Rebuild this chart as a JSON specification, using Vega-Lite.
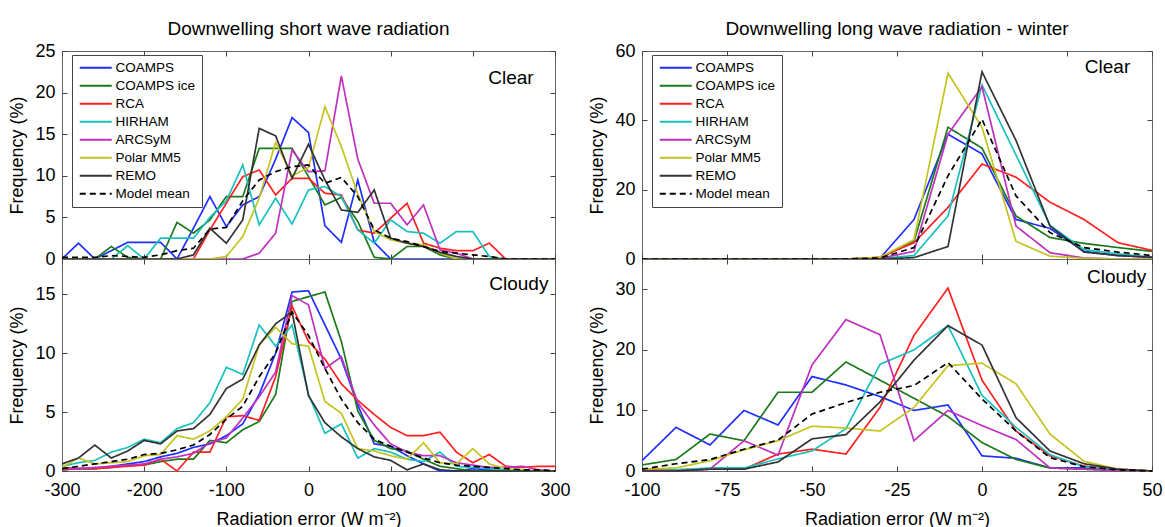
{
  "$schema": "https://vega.github.io/schema/vega-lite/v6.json",
  "padding": {"left": 8, "top": 19, "right": 0, "bottom": 0},
  "background": "white",
  "config": {
    "font": "Liberation Sans",
    "view": {"stroke": "#666666", "strokeWidth": 1},
    "axis": {"labelFont": "Liberation Sans", "labelFontSize": 18, "titleFont": "Liberation Sans", "titleFontSize": 18, "titleFontWeight": "normal", "grid": false, "domain": false, "tickColor": "#444444", "tickSize": -5, "labelColor": "#000000", "titleColor": "#000000", "labelFlush": false},
    "title": {"font": "Liberation Sans", "fontSize": 19, "fontWeight": "normal", "color": "#000000", "offset": 3},
    "legend": {"title": null, "orient": "none", "legendX": 10, "legendY": 4, "fillColor": "white", "strokeColor": "#444444", "padding": 6, "labelFont": "Liberation Sans", "labelFontSize": 13.5, "symbolType": "M-1,0H5.4", "symbolSize": 100, "symbolStrokeWidth": 2, "rowPadding": 3, "labelOffset": 24, "zindex": 1}
  },
  "datasets": {
    "sw_clear": [
      {"x": -300, "COAMPS": 0, "COAMPS ice": 0, "RCA": 0, "HIRHAM": 0, "ARCSyM": 0, "Polar MM5": 0, "REMO": 0, "Model mean": 0.2},
      {"x": -280, "COAMPS": 1.9, "COAMPS ice": 0, "RCA": 0, "HIRHAM": 0, "ARCSyM": 0, "Polar MM5": 0, "REMO": 0, "Model mean": 0.2},
      {"x": -260, "COAMPS": 0, "COAMPS ice": 0, "RCA": 0, "HIRHAM": 0, "ARCSyM": 0, "Polar MM5": 0, "REMO": 0, "Model mean": 0.2},
      {"x": -240, "COAMPS": 1, "COAMPS ice": 1.5, "RCA": 0, "HIRHAM": 0, "ARCSyM": 0, "Polar MM5": 0, "REMO": 0, "Model mean": 0.4},
      {"x": -220, "COAMPS": 2, "COAMPS ice": 0.2, "RCA": 0, "HIRHAM": 1.6, "ARCSyM": 0, "Polar MM5": 0, "REMO": 0, "Model mean": 0.3},
      {"x": -200, "COAMPS": 2, "COAMPS ice": 0, "RCA": 0, "HIRHAM": 0, "ARCSyM": 0, "Polar MM5": 0, "REMO": 0, "Model mean": 0.2},
      {"x": -180, "COAMPS": 2, "COAMPS ice": 0, "RCA": 0, "HIRHAM": 2.5, "ARCSyM": 0, "Polar MM5": 0, "REMO": 0, "Model mean": 0.5},
      {"x": -160, "COAMPS": 0, "COAMPS ice": 4.4, "RCA": 0, "HIRHAM": 2.5, "ARCSyM": 0, "Polar MM5": 0, "REMO": 0, "Model mean": 1},
      {"x": -140, "COAMPS": 3.7, "COAMPS ice": 3.1, "RCA": 0, "HIRHAM": 2.5, "ARCSyM": 0, "Polar MM5": 0, "REMO": 0.5, "Model mean": 1.3},
      {"x": -120, "COAMPS": 7.5, "COAMPS ice": 4.7, "RCA": 3.5, "HIRHAM": 5, "ARCSyM": 0, "Polar MM5": 0, "REMO": 3.7, "Model mean": 3.6},
      {"x": -100, "COAMPS": 3.9, "COAMPS ice": 7.5, "RCA": 6.7, "HIRHAM": 7, "ARCSyM": 0, "Polar MM5": 0.3, "REMO": 1.9, "Model mean": 3.8},
      {"x": -80, "COAMPS": 6.5, "COAMPS ice": 7.5, "RCA": 9.9, "HIRHAM": 11.3, "ARCSyM": 0, "Polar MM5": 2.7, "REMO": 4.7, "Model mean": 7},
      {"x": -60, "COAMPS": 7.5, "COAMPS ice": 13.3, "RCA": 10.7, "HIRHAM": 4.1, "ARCSyM": 0.7, "Polar MM5": 7.3, "REMO": 15.7, "Model mean": 9.5},
      {"x": -40, "COAMPS": 12, "COAMPS ice": 13.3, "RCA": 7.7, "HIRHAM": 7.3, "ARCSyM": 3.1, "Polar MM5": 14, "REMO": 14.8, "Model mean": 10.5},
      {"x": -20, "COAMPS": 17, "COAMPS ice": 13.3, "RCA": 9.7, "HIRHAM": 4.2, "ARCSyM": 13.1, "Polar MM5": 10, "REMO": 9.7, "Model mean": 11.1},
      {"x": 0, "COAMPS": 15.2, "COAMPS ice": 9.9, "RCA": 9.7, "HIRHAM": 8.3, "ARCSyM": 10.5, "Polar MM5": 11, "REMO": 13.8, "Model mean": 11.3},
      {"x": 20, "COAMPS": 4, "COAMPS ice": 6.5, "RCA": 7.9, "HIRHAM": 8.7, "ARCSyM": 10.6, "Polar MM5": 18.3, "REMO": 9.5, "Model mean": 9.1},
      {"x": 40, "COAMPS": 2, "COAMPS ice": 7.4, "RCA": 7.7, "HIRHAM": 7.5, "ARCSyM": 22, "Polar MM5": 13.5, "REMO": 5.9, "Model mean": 9.8},
      {"x": 60, "COAMPS": 9.5, "COAMPS ice": 4.5, "RCA": 3.5, "HIRHAM": 3.5, "ARCSyM": 12, "Polar MM5": 7.8, "REMO": 5.6, "Model mean": 7.5},
      {"x": 80, "COAMPS": 2, "COAMPS ice": 0.2, "RCA": 3.1, "HIRHAM": 1.9, "ARCSyM": 6.7, "Polar MM5": 3.3, "REMO": 8.3, "Model mean": 3.5},
      {"x": 100, "COAMPS": 0, "COAMPS ice": 0, "RCA": 4.9, "HIRHAM": 4.7, "ARCSyM": 6.7, "Polar MM5": 2.3, "REMO": 2.5, "Model mean": 2.5},
      {"x": 120, "COAMPS": 0, "COAMPS ice": 1.5, "RCA": 6.7, "HIRHAM": 3.3, "ARCSyM": 4.1, "Polar MM5": 1.9, "REMO": 1.9, "Model mean": 2.1},
      {"x": 140, "COAMPS": 0, "COAMPS ice": 1.5, "RCA": 1.9, "HIRHAM": 3.1, "ARCSyM": 6.5, "Polar MM5": 1.7, "REMO": 1.5, "Model mean": 1.5},
      {"x": 160, "COAMPS": 0, "COAMPS ice": 0.5, "RCA": 1.3, "HIRHAM": 1.9, "ARCSyM": 1.1, "Polar MM5": 0.7, "REMO": 0.8, "Model mean": 0.9},
      {"x": 180, "COAMPS": 0, "COAMPS ice": 0, "RCA": 1, "HIRHAM": 3.3, "ARCSyM": 0.7, "Polar MM5": 0, "REMO": 0.3, "Model mean": 0.7},
      {"x": 200, "COAMPS": 0, "COAMPS ice": 0, "RCA": 1, "HIRHAM": 3.3, "ARCSyM": 0, "Polar MM5": 0, "REMO": 0, "Model mean": 0.5},
      {"x": 220, "COAMPS": 0, "COAMPS ice": 0, "RCA": 1.9, "HIRHAM": 0.3, "ARCSyM": 0, "Polar MM5": 0, "REMO": 0, "Model mean": 0.3},
      {"x": 240, "COAMPS": 0, "COAMPS ice": 0, "RCA": 0, "HIRHAM": 0, "ARCSyM": 0, "Polar MM5": 0, "REMO": 0, "Model mean": 0},
      {"x": 260, "COAMPS": 0, "COAMPS ice": 0, "RCA": 0, "HIRHAM": 0, "ARCSyM": 0, "Polar MM5": 0, "REMO": 0, "Model mean": 0},
      {"x": 280, "COAMPS": 0, "COAMPS ice": 0, "RCA": 0, "HIRHAM": 0, "ARCSyM": 0, "Polar MM5": 0, "REMO": 0, "Model mean": 0},
      {"x": 300, "COAMPS": 0, "COAMPS ice": 0, "RCA": 0, "HIRHAM": 0, "ARCSyM": 0, "Polar MM5": 0, "REMO": 0, "Model mean": 0}
    ],
    "sw_cloudy": [
      {"x": -300, "COAMPS": 0.1, "COAMPS ice": 0.3, "RCA": 0.1, "HIRHAM": 0.4, "ARCSyM": 0.2, "Polar MM5": 0.3, "REMO": 0.6, "Model mean": 0.2},
      {"x": -280, "COAMPS": 0.2, "COAMPS ice": 0.2, "RCA": 0.2, "HIRHAM": 0.7, "ARCSyM": 0.2, "Polar MM5": 1.1, "REMO": 1.1, "Model mean": 0.4},
      {"x": -260, "COAMPS": 0.2, "COAMPS ice": 0.2, "RCA": 0.2, "HIRHAM": 0.9, "ARCSyM": 0.3, "Polar MM5": 0.6, "REMO": 2.2, "Model mean": 0.6},
      {"x": -240, "COAMPS": 0.4, "COAMPS ice": 0.3, "RCA": 0.3, "HIRHAM": 1.6, "ARCSyM": 0.4, "Polar MM5": 0.7, "REMO": 1.1, "Model mean": 0.8},
      {"x": -220, "COAMPS": 0.6, "COAMPS ice": 0.5, "RCA": 0.4, "HIRHAM": 2, "ARCSyM": 0.5, "Polar MM5": 0.8, "REMO": 1.7, "Model mean": 1},
      {"x": -200, "COAMPS": 0.8, "COAMPS ice": 0.5, "RCA": 0.5, "HIRHAM": 2.7, "ARCSyM": 0.6, "Polar MM5": 1.3, "REMO": 2.6, "Model mean": 1.4},
      {"x": -180, "COAMPS": 1.2, "COAMPS ice": 0.8, "RCA": 1, "HIRHAM": 2.4, "ARCSyM": 1, "Polar MM5": 1.4, "REMO": 2.3, "Model mean": 1.5},
      {"x": -160, "COAMPS": 1.5, "COAMPS ice": 1, "RCA": 0, "HIRHAM": 3.6, "ARCSyM": 1.2, "Polar MM5": 3, "REMO": 3.4, "Model mean": 1.8},
      {"x": -140, "COAMPS": 2, "COAMPS ice": 1, "RCA": 1.6, "HIRHAM": 4.1, "ARCSyM": 1.5, "Polar MM5": 2.7, "REMO": 3.6, "Model mean": 2.2},
      {"x": -120, "COAMPS": 2.3, "COAMPS ice": 2.6, "RCA": 1.6, "HIRHAM": 5.8, "ARCSyM": 2.4, "Polar MM5": 3.4, "REMO": 4.8, "Model mean": 3.1},
      {"x": -100, "COAMPS": 3, "COAMPS ice": 2.4, "RCA": 4.6, "HIRHAM": 8.8, "ARCSyM": 2.8, "Polar MM5": 4.6, "REMO": 7, "Model mean": 4.4},
      {"x": -80, "COAMPS": 4, "COAMPS ice": 3.5, "RCA": 4.7, "HIRHAM": 8.2, "ARCSyM": 4.5, "Polar MM5": 6.1, "REMO": 7.8, "Model mean": 5.5},
      {"x": -60, "COAMPS": 6.5, "COAMPS ice": 4.2, "RCA": 4.3, "HIRHAM": 12.4, "ARCSyM": 6.3, "Polar MM5": 10.7, "REMO": 10.7, "Model mean": 8},
      {"x": -40, "COAMPS": 10, "COAMPS ice": 6.5, "RCA": 8, "HIRHAM": 10.6, "ARCSyM": 8.4, "Polar MM5": 12.2, "REMO": 12.5, "Model mean": 10},
      {"x": -20, "COAMPS": 15.2, "COAMPS ice": 14.4, "RCA": 14, "HIRHAM": 12.4, "ARCSyM": 14.9, "Polar MM5": 10.8, "REMO": 13.5, "Model mean": 13.5},
      {"x": 0, "COAMPS": 15.3, "COAMPS ice": 14.8, "RCA": 11, "HIRHAM": 6.5, "ARCSyM": 14.1, "Polar MM5": 10.6, "REMO": 6.4, "Model mean": 11.5},
      {"x": 20, "COAMPS": 12.4, "COAMPS ice": 15.2, "RCA": 9.5, "HIRHAM": 3.2, "ARCSyM": 8.7, "Polar MM5": 5.9, "REMO": 4.1, "Model mean": 8.7},
      {"x": 40, "COAMPS": 9.5, "COAMPS ice": 11, "RCA": 7.4, "HIRHAM": 4, "ARCSyM": 9.7, "Polar MM5": 4.9, "REMO": 2.9, "Model mean": 6.1},
      {"x": 60, "COAMPS": 5.6, "COAMPS ice": 5.1, "RCA": 6, "HIRHAM": 1.1, "ARCSyM": 5.8, "Polar MM5": 1.9, "REMO": 1.9, "Model mean": 4.1},
      {"x": 80, "COAMPS": 2.3, "COAMPS ice": 2.6, "RCA": 4.8, "HIRHAM": 1.9, "ARCSyM": 3.9, "Polar MM5": 1.7, "REMO": 1.2, "Model mean": 2.7},
      {"x": 100, "COAMPS": 2.1, "COAMPS ice": 1.9, "RCA": 3.7, "HIRHAM": 1.6, "ARCSyM": 2.3, "Polar MM5": 1.3, "REMO": 0.9, "Model mean": 2.1},
      {"x": 120, "COAMPS": 1.3, "COAMPS ice": 1.7, "RCA": 3, "HIRHAM": 1, "ARCSyM": 1.6, "Polar MM5": 1, "REMO": 0.1, "Model mean": 1.6},
      {"x": 140, "COAMPS": 0.6, "COAMPS ice": 1, "RCA": 3, "HIRHAM": 0.8, "ARCSyM": 1.3, "Polar MM5": 2.4, "REMO": 0.6, "Model mean": 1.1},
      {"x": 160, "COAMPS": 0, "COAMPS ice": 0.4, "RCA": 3.3, "HIRHAM": 1.6, "ARCSyM": 1.3, "Polar MM5": 0.7, "REMO": 0.1, "Model mean": 0.7},
      {"x": 180, "COAMPS": 0, "COAMPS ice": 0.2, "RCA": 1.6, "HIRHAM": 0.4, "ARCSyM": 0.7, "Polar MM5": 0.6, "REMO": 0, "Model mean": 0.5},
      {"x": 200, "COAMPS": 0.2, "COAMPS ice": 0, "RCA": 0.7, "HIRHAM": 0.3, "ARCSyM": 0.5, "Polar MM5": 1.9, "REMO": 0, "Model mean": 0.4},
      {"x": 220, "COAMPS": 0.1, "COAMPS ice": 0, "RCA": 1.4, "HIRHAM": 0.2, "ARCSyM": 0.3, "Polar MM5": 0.6, "REMO": 0, "Model mean": 0.3},
      {"x": 240, "COAMPS": 0, "COAMPS ice": 0, "RCA": 0.4, "HIRHAM": 0.1, "ARCSyM": 0.3, "Polar MM5": 0.2, "REMO": 0, "Model mean": 0.2},
      {"x": 260, "COAMPS": 0, "COAMPS ice": 0, "RCA": 0.3, "HIRHAM": 0, "ARCSyM": 0.4, "Polar MM5": 0.1, "REMO": 0, "Model mean": 0.1},
      {"x": 280, "COAMPS": 0, "COAMPS ice": 0, "RCA": 0.4, "HIRHAM": 0, "ARCSyM": 0.1, "Polar MM5": 0, "REMO": 0, "Model mean": 0.1},
      {"x": 300, "COAMPS": 0, "COAMPS ice": 0, "RCA": 0.4, "HIRHAM": 0, "ARCSyM": 0, "Polar MM5": 0, "REMO": 0, "Model mean": 0}
    ],
    "lw_clear": [
      {"x": -100, "COAMPS": 0, "COAMPS ice": 0, "RCA": 0, "HIRHAM": 0, "ARCSyM": 0, "Polar MM5": 0, "REMO": 0, "Model mean": 0},
      {"x": -90, "COAMPS": 0, "COAMPS ice": 0, "RCA": 0, "HIRHAM": 0, "ARCSyM": 0, "Polar MM5": 0, "REMO": 0, "Model mean": 0},
      {"x": -80, "COAMPS": 0, "COAMPS ice": 0, "RCA": 0, "HIRHAM": 0, "ARCSyM": 0, "Polar MM5": 0, "REMO": 0, "Model mean": 0},
      {"x": -70, "COAMPS": 0, "COAMPS ice": 0, "RCA": 0, "HIRHAM": 0, "ARCSyM": 0, "Polar MM5": 0, "REMO": 0, "Model mean": 0},
      {"x": -60, "COAMPS": 0, "COAMPS ice": 0, "RCA": 0, "HIRHAM": 0, "ARCSyM": 0, "Polar MM5": 0, "REMO": 0, "Model mean": 0},
      {"x": -50, "COAMPS": 0, "COAMPS ice": 0, "RCA": 0, "HIRHAM": 0, "ARCSyM": 0, "Polar MM5": 0, "REMO": 0, "Model mean": 0},
      {"x": -40, "COAMPS": 0, "COAMPS ice": 0, "RCA": 0, "HIRHAM": 0, "ARCSyM": 0, "Polar MM5": 0, "REMO": 0, "Model mean": 0},
      {"x": -30, "COAMPS": 0.2, "COAMPS ice": 0.3, "RCA": 0.5, "HIRHAM": 0.1, "ARCSyM": 0.2, "Polar MM5": 0.5, "REMO": 0, "Model mean": 0.3},
      {"x": -20, "COAMPS": 11.4, "COAMPS ice": 5.1, "RCA": 4.7, "HIRHAM": 1, "ARCSyM": 2.2, "Polar MM5": 5.6, "REMO": 0.4, "Model mean": 3.3},
      {"x": -10, "COAMPS": 36, "COAMPS ice": 38, "RCA": 14.9, "HIRHAM": 12.4, "ARCSyM": 36, "Polar MM5": 53.6, "REMO": 3.6, "Model mean": 24},
      {"x": 0, "COAMPS": 30.3, "COAMPS ice": 32, "RCA": 27.4, "HIRHAM": 50.2, "ARCSyM": 49.7, "Polar MM5": 38, "REMO": 54, "Model mean": 40.3},
      {"x": 10, "COAMPS": 11.4, "COAMPS ice": 12.4, "RCA": 23.6, "HIRHAM": 30, "ARCSyM": 9.5, "Polar MM5": 5.1, "REMO": 34.2, "Model mean": 18.2},
      {"x": 20, "COAMPS": 8.8, "COAMPS ice": 6.2, "RCA": 16.4, "HIRHAM": 9.7, "ARCSyM": 1.8, "Polar MM5": 0.8, "REMO": 9.5, "Model mean": 7.6},
      {"x": 30, "COAMPS": 2.2, "COAMPS ice": 4.5, "RCA": 11.4, "HIRHAM": 2.7, "ARCSyM": 0.3, "Polar MM5": 0.2, "REMO": 2, "Model mean": 3.3},
      {"x": 40, "COAMPS": 1, "COAMPS ice": 3.3, "RCA": 4.7, "HIRHAM": 1.5, "ARCSyM": 0, "Polar MM5": 0, "REMO": 1, "Model mean": 2},
      {"x": 50, "COAMPS": 0.5, "COAMPS ice": 2.2, "RCA": 2.5, "HIRHAM": 0.5, "ARCSyM": 0, "Polar MM5": 0, "REMO": 0.5, "Model mean": 1}
    ],
    "lw_cloudy": [
      {"x": -100, "COAMPS": 1.7, "COAMPS ice": 1, "RCA": 0.2, "HIRHAM": 0, "ARCSyM": 0, "Polar MM5": 0.3, "REMO": 0, "Model mean": 0.3},
      {"x": -90, "COAMPS": 7.2, "COAMPS ice": 1.9, "RCA": 0.2, "HIRHAM": 0.2, "ARCSyM": 0, "Polar MM5": 0.5, "REMO": 0, "Model mean": 1.2},
      {"x": -80, "COAMPS": 4.3, "COAMPS ice": 6.1, "RCA": 0.3, "HIRHAM": 0.5, "ARCSyM": 0.3, "Polar MM5": 1.7, "REMO": 0.3, "Model mean": 1.9},
      {"x": -70, "COAMPS": 10, "COAMPS ice": 5, "RCA": 0.3, "HIRHAM": 0.5, "ARCSyM": 5, "Polar MM5": 3.5, "REMO": 0.3, "Model mean": 3.6},
      {"x": -60, "COAMPS": 7.6, "COAMPS ice": 13, "RCA": 2.8, "HIRHAM": 2, "ARCSyM": 2.6, "Polar MM5": 5, "REMO": 1.5, "Model mean": 5.1},
      {"x": -50, "COAMPS": 15.6, "COAMPS ice": 13, "RCA": 3.6, "HIRHAM": 3.3, "ARCSyM": 17.5, "Polar MM5": 7.4, "REMO": 5.3, "Model mean": 9.4},
      {"x": -40, "COAMPS": 14.2, "COAMPS ice": 18, "RCA": 2.8, "HIRHAM": 7, "ARCSyM": 25, "Polar MM5": 7.1, "REMO": 6, "Model mean": 11.3},
      {"x": -30, "COAMPS": 12.3, "COAMPS ice": 15, "RCA": 10.5, "HIRHAM": 17.6, "ARCSyM": 22.5, "Polar MM5": 6.6, "REMO": 11.4, "Model mean": 13},
      {"x": -20, "COAMPS": 10, "COAMPS ice": 12, "RCA": 22.4, "HIRHAM": 20, "ARCSyM": 5, "Polar MM5": 10.5, "REMO": 18.3, "Model mean": 14.1},
      {"x": -10, "COAMPS": 10.9, "COAMPS ice": 9, "RCA": 30.2, "HIRHAM": 24, "ARCSyM": 10, "Polar MM5": 17.4, "REMO": 24, "Model mean": 17.9},
      {"x": 0, "COAMPS": 2.5, "COAMPS ice": 4.7, "RCA": 15, "HIRHAM": 12.5, "ARCSyM": 7.5, "Polar MM5": 17.8, "REMO": 20.8, "Model mean": 11.9},
      {"x": 10, "COAMPS": 2.1, "COAMPS ice": 1.9, "RCA": 6.6, "HIRHAM": 7.2, "ARCSyM": 5.2, "Polar MM5": 14.4, "REMO": 8.8, "Model mean": 6.6},
      {"x": 20, "COAMPS": 0.5, "COAMPS ice": 0.5, "RCA": 2.5, "HIRHAM": 2.7, "ARCSyM": 0.5, "Polar MM5": 6.1, "REMO": 3.3, "Model mean": 2.2},
      {"x": 30, "COAMPS": 0.5, "COAMPS ice": 0.3, "RCA": 0.8, "HIRHAM": 0.7, "ARCSyM": 0.3, "Polar MM5": 1.6, "REMO": 1.2, "Model mean": 0.7},
      {"x": 40, "COAMPS": 0.2, "COAMPS ice": 0.1, "RCA": 0.3, "HIRHAM": 0.2, "ARCSyM": 0.1, "Polar MM5": 0.3, "REMO": 0.3, "Model mean": 0.2},
      {"x": 50, "COAMPS": 0, "COAMPS ice": 0, "RCA": 0, "HIRHAM": 0, "ARCSyM": 0, "Polar MM5": 0, "REMO": 0, "Model mean": 0}
    ]
  },
  "resolve": {"scale": {"color": "independent", "strokeDash": "independent"}, "legend": {"color": "independent", "strokeDash": "independent"}},
  "spacing": 17,
  "hconcat": [
    {
      "spacing": 0,
      "bounds": "flush",
      "resolve": {"scale": {"color": "independent", "strokeDash": "independent"}, "legend": {"color": "independent", "strokeDash": "independent"}},
      "vconcat": [
        {
          "width": 493, "height": 208,
          "title": {"text": "Downwelling short wave radiation"},
          "resolve": {"axis": {"x": "independent", "y": "independent"}},
          "layer": [
            {
              "data": {"name": "sw_clear"},
              "transform": [{"fold": ["COAMPS", "COAMPS ice", "RCA", "HIRHAM", "ARCSyM", "Polar MM5", "REMO", "Model mean"], "as": ["model", "freq"]}],
              "mark": {"type": "line", "strokeWidth": 1.7},
              "encoding": {
                "x": {"field": "x", "type": "quantitative", "scale": {"domain": [-300, 300], "nice": false, "zero": false}, "axis": {"values": [-300, -200, -100, 0, 100, 200, 300], "labels": false, "title": null, "minExtent": 0, "maxExtent": 0}},
                "y": {"field": "freq", "type": "quantitative", "scale": {"domain": [0, 25], "nice": false}, "axis": {"values": [0, 5, 10, 15, 20, 25], "title": "Frequency (%)", "labelPadding": 12, "titlePadding": 8}},
                "color": {"field": "model", "type": "nominal", "scale": {"domain": ["COAMPS", "COAMPS ice", "RCA", "HIRHAM", "ARCSyM", "Polar MM5", "REMO", "Model mean"], "range": ["#1f2fff", "#1a7a1a", "#ff2020", "#19c0c0", "#c030c0", "#c4c420", "#333333", "#000000"]}, "legend": {}},
                "strokeDash": {"field": "model", "type": "nominal", "scale": {"domain": ["COAMPS", "COAMPS ice", "RCA", "HIRHAM", "ARCSyM", "Polar MM5", "REMO", "Model mean"], "range": [[1, 0], [1, 0], [1, 0], [1, 0], [1, 0], [1, 0], [1, 0], [6, 4]]}, "legend": {}}
              }
            },
            {
              "data": {"values": [{"label": "Clear"}]},
              "mark": {"type": "text", "align": "right", "baseline": "middle", "fontSize": 19, "font": "Liberation Sans"},
              "encoding": {
                "x": {"datum": 274, "type": "quantitative", "axis": {"orient": "top", "values": [-300, -200, -100, 0, 100, 200, 300], "labels": false, "title": null, "minExtent": 0, "maxExtent": 0}},
                "y": {"datum": 21.8, "type": "quantitative", "axis": {"orient": "right", "values": [0, 5, 10, 15, 20, 25], "labels": false, "title": null, "minExtent": 0, "maxExtent": 0}},
                "text": {"field": "label"}
              }
            }
          ]
        },
        {
          "width": 493, "height": 212,
          "resolve": {"axis": {"x": "independent", "y": "independent"}},
          "layer": [
            {
              "data": {"name": "sw_cloudy"},
              "transform": [{"fold": ["COAMPS", "COAMPS ice", "RCA", "HIRHAM", "ARCSyM", "Polar MM5", "REMO", "Model mean"], "as": ["model", "freq"]}],
              "mark": {"type": "line", "strokeWidth": 1.7},
              "encoding": {
                "x": {"field": "x", "type": "quantitative", "scale": {"domain": [-300, 300], "nice": false, "zero": false}, "axis": {"values": [-300, -200, -100, 0, 100, 200, 300], "labelExpr": "'' + datum.value", "title": "Radiation error (W m⁻²)", "labelPadding": 15, "titlePadding": 11}},
                "y": {"field": "freq", "type": "quantitative", "scale": {"domain": [0, 18], "nice": false}, "axis": {"values": [0, 5, 10, 15], "title": "Frequency (%)", "labelPadding": 12, "titlePadding": 8}},
                "color": {"field": "model", "type": "nominal", "scale": {"domain": ["COAMPS", "COAMPS ice", "RCA", "HIRHAM", "ARCSyM", "Polar MM5", "REMO", "Model mean"], "range": ["#1f2fff", "#1a7a1a", "#ff2020", "#19c0c0", "#c030c0", "#c4c420", "#333333", "#000000"]}, "legend": null},
                "strokeDash": {"field": "model", "type": "nominal", "scale": {"domain": ["COAMPS", "COAMPS ice", "RCA", "HIRHAM", "ARCSyM", "Polar MM5", "REMO", "Model mean"], "range": [[1, 0], [1, 0], [1, 0], [1, 0], [1, 0], [1, 0], [1, 0], [6, 4]]}, "legend": null}
              }
            },
            {
              "data": {"values": [{"label": "Cloudy"}]},
              "mark": {"type": "text", "align": "right", "baseline": "middle", "fontSize": 19, "font": "Liberation Sans"},
              "encoding": {
                "x": {"datum": 292, "type": "quantitative", "axis": {"orient": "top", "values": [-300, -200, -100, 0, 100, 200, 300], "labels": false, "title": null, "minExtent": 0, "maxExtent": 0}},
                "y": {"datum": 15.9, "type": "quantitative", "axis": {"orient": "right", "values": [0, 5, 10, 15], "labels": false, "title": null, "minExtent": 0, "maxExtent": 0}},
                "text": {"field": "label"}
              }
            }
          ]
        }
      ]
    },
    {
      "spacing": 0,
      "bounds": "flush",
      "resolve": {"scale": {"color": "independent", "strokeDash": "independent"}, "legend": {"color": "independent", "strokeDash": "independent"}},
      "vconcat": [
        {
          "width": 510, "height": 208,
          "title": {"text": "Downwelling long wave radiation - winter"},
          "resolve": {"axis": {"x": "independent", "y": "independent"}},
          "layer": [
            {
              "data": {"name": "lw_clear"},
              "transform": [{"fold": ["COAMPS", "COAMPS ice", "RCA", "HIRHAM", "ARCSyM", "Polar MM5", "REMO", "Model mean"], "as": ["model", "freq"]}],
              "mark": {"type": "line", "strokeWidth": 1.7},
              "encoding": {
                "x": {"field": "x", "type": "quantitative", "scale": {"domain": [-100, 50], "nice": false, "zero": false}, "axis": {"values": [-100, -75, -50, -25, 0, 25, 50], "labels": false, "title": null, "minExtent": 0, "maxExtent": 0}},
                "y": {"field": "freq", "type": "quantitative", "scale": {"domain": [0, 60], "nice": false}, "axis": {"values": [0, 20, 40, 60], "title": "Frequency (%)", "labelPadding": 12, "titlePadding": 8}},
                "color": {"field": "model", "type": "nominal", "scale": {"domain": ["COAMPS", "COAMPS ice", "RCA", "HIRHAM", "ARCSyM", "Polar MM5", "REMO", "Model mean"], "range": ["#1f2fff", "#1a7a1a", "#ff2020", "#19c0c0", "#c030c0", "#c4c420", "#333333", "#000000"]}, "legend": {}},
                "strokeDash": {"field": "model", "type": "nominal", "scale": {"domain": ["COAMPS", "COAMPS ice", "RCA", "HIRHAM", "ARCSyM", "Polar MM5", "REMO", "Model mean"], "range": [[1, 0], [1, 0], [1, 0], [1, 0], [1, 0], [1, 0], [1, 0], [6, 4]]}, "legend": {}}
              }
            },
            {
              "data": {"values": [{"label": "Clear"}]},
              "mark": {"type": "text", "align": "right", "baseline": "middle", "fontSize": 19, "font": "Liberation Sans"},
              "encoding": {
                "x": {"datum": 43.6, "type": "quantitative", "axis": {"orient": "top", "values": [-100, -75, -50, -25, 0, 25, 50], "labels": false, "title": null, "minExtent": 0, "maxExtent": 0}},
                "y": {"datum": 55.5, "type": "quantitative", "axis": {"orient": "right", "values": [0, 20, 40, 60], "labels": false, "title": null, "minExtent": 0, "maxExtent": 0}},
                "text": {"field": "label"}
              }
            }
          ]
        },
        {
          "width": 510, "height": 212,
          "resolve": {"axis": {"x": "independent", "y": "independent"}},
          "layer": [
            {
              "data": {"name": "lw_cloudy"},
              "transform": [{"fold": ["COAMPS", "COAMPS ice", "RCA", "HIRHAM", "ARCSyM", "Polar MM5", "REMO", "Model mean"], "as": ["model", "freq"]}],
              "mark": {"type": "line", "strokeWidth": 1.7},
              "encoding": {
                "x": {"field": "x", "type": "quantitative", "scale": {"domain": [-100, 50], "nice": false, "zero": false}, "axis": {"values": [-100, -75, -50, -25, 0, 25, 50], "labelExpr": "'' + datum.value", "title": "Radiation error (W m⁻²)", "labelPadding": 15, "titlePadding": 11}},
                "y": {"field": "freq", "type": "quantitative", "scale": {"domain": [0, 35], "nice": false}, "axis": {"values": [0, 10, 20, 30], "title": "Frequency (%)", "labelPadding": 12, "titlePadding": 8}},
                "color": {"field": "model", "type": "nominal", "scale": {"domain": ["COAMPS", "COAMPS ice", "RCA", "HIRHAM", "ARCSyM", "Polar MM5", "REMO", "Model mean"], "range": ["#1f2fff", "#1a7a1a", "#ff2020", "#19c0c0", "#c030c0", "#c4c420", "#333333", "#000000"]}, "legend": null},
                "strokeDash": {"field": "model", "type": "nominal", "scale": {"domain": ["COAMPS", "COAMPS ice", "RCA", "HIRHAM", "ARCSyM", "Polar MM5", "REMO", "Model mean"], "range": [[1, 0], [1, 0], [1, 0], [1, 0], [1, 0], [1, 0], [1, 0], [6, 4]]}, "legend": null}
              }
            },
            {
              "data": {"values": [{"label": "Cloudy"}]},
              "mark": {"type": "text", "align": "right", "baseline": "middle", "fontSize": 19, "font": "Liberation Sans"},
              "encoding": {
                "x": {"datum": 48.3, "type": "quantitative", "axis": {"orient": "top", "values": [-100, -75, -50, -25, 0, 25, 50], "labels": false, "title": null, "minExtent": 0, "maxExtent": 0}},
                "y": {"datum": 32.1, "type": "quantitative", "axis": {"orient": "right", "values": [0, 10, 20, 30], "labels": false, "title": null, "minExtent": 0, "maxExtent": 0}},
                "text": {"field": "label"}
              }
            }
          ]
        }
      ]
    }
  ]
}
